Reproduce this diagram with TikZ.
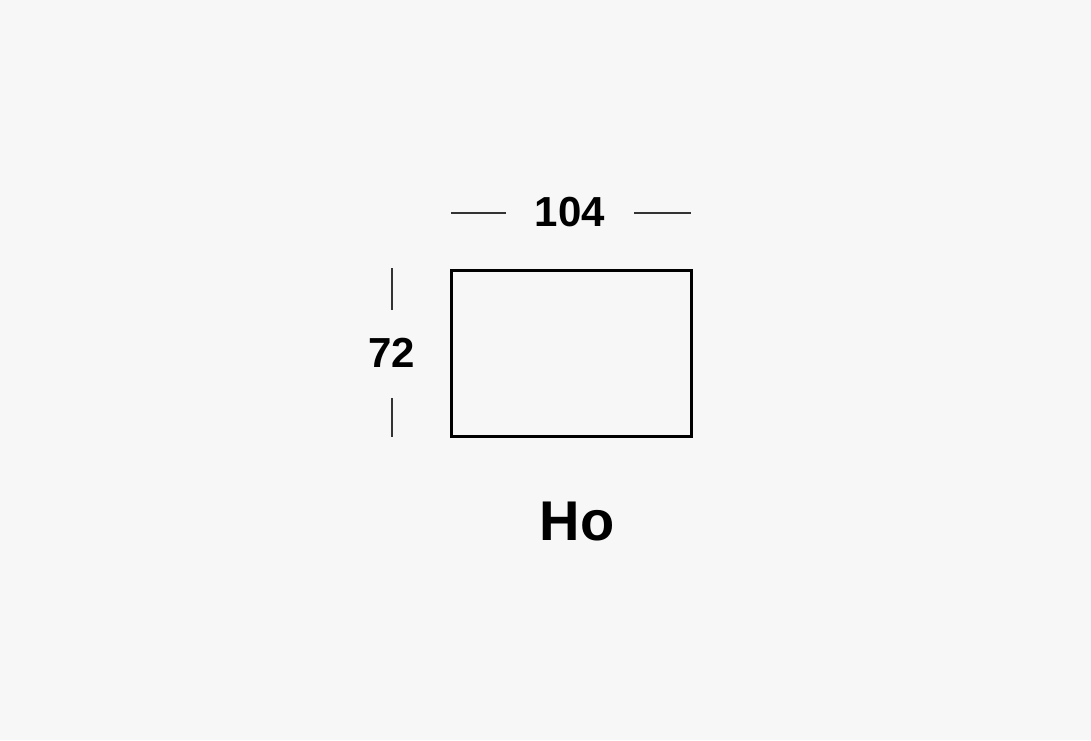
\documentclass[tikz,border=0pt]{standalone}
\usepackage{fontspec}
\setmainfont{Liberation Sans}
\definecolor{bgcolor}{HTML}{F7F7F7}
\definecolor{dimcolor}{HTML}{333333}
\tikzset{
  dimline/.style={draw=dimcolor, line width=1.3pt},
  dimlabel/.style={inner sep=0pt, font=\fontsize{42}{42}\selectfont\bfseries},
  module/.style={draw=black, line width=3pt, inner sep=0pt, minimum width=240pt, minimum height=166pt}
}
\begin{document}
\begin{tikzpicture}[x=1pt, y=-1pt]
        % Background
        \fill[bgcolor] (0,0) rectangle (1091,740);
        \useasboundingbox (0,0) rectangle (1091,740);

        % Box
        \node[module] (ho) at (571.25,353.25) {};

        % Width
        \node[dimlabel] (width) at (570,212.5) {104};
        \coordinate (wa) at (451,213);
        \coordinate (wb) at (506,213);
        \coordinate (wc) at (634,213);
        \coordinate (wd) at (691,213);
        \draw[dimline] (wa) -- (wb);
        \draw[dimline] (wc) -- (wd);

        % Height
        \node[dimlabel] (height) at (391.5,352.5) {72};
        \coordinate (ha) at (392,268);
        \coordinate (hb) at (392,310);
        \coordinate (hc) at (392,398);
        \coordinate (hd) at (392,437);
        \draw[dimline] (ha) -- (hb);
        \draw[dimline] (hc) -- (hd);

        % Name
        \node[inner sep=0pt, font=\fontsize{56}{56}\selectfont\bfseries] (name) at (577,521) {Ho};
    \end{tikzpicture}
\end{document}
